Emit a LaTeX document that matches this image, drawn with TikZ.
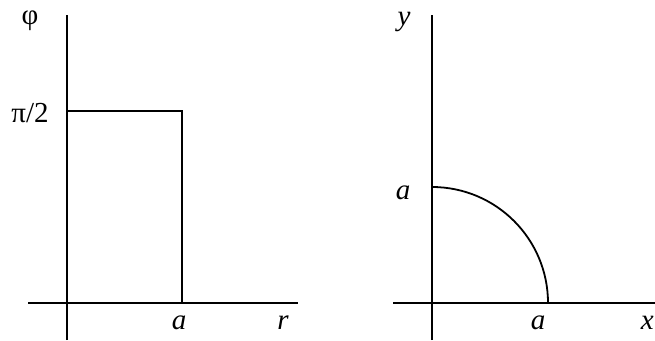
\documentclass[tikz,border=0pt]{standalone}
\usepackage{fontspec}
\setmainfont{Liberation Serif}
\begin{document}
\begin{tikzpicture}[x=1pt,y=-1pt,
  axis/.style={line width=1.8pt},
  curve/.style={line width=1.8pt},
  lbl/.style={inner sep=0pt,font=\fontsize{29}{31}\selectfont}]
\useasboundingbox (0,0) rectangle (655,340);
% left panel
\coordinate (L0) at (67,303);
\coordinate (Ltop) at (67,15);
\coordinate (Lbot) at (67,340);
\coordinate (Lleft) at (28,303);
\coordinate (Lright) at (298,303);
\coordinate (R1) at (67,111);
\coordinate (R2) at (182,111);
\coordinate (R3) at (182,303);
\draw[axis] (Lbot) -- (Ltop);
\draw[axis] (Lleft) -- (Lright);
\draw[curve] (R1) -- (R2) -- (R3);
\node[lbl] (phi) at (30,21) {φ};
\node[lbl] (pi2) at (30,113) {π/2};
\node[lbl] (la) at (179,323) {\itshape a};
\node[lbl] (lr) at (283,323) {\itshape r};
% right panel
\coordinate (O) at (432,303);
\coordinate (Rtop) at (432,15);
\coordinate (Rbot) at (432,340);
\coordinate (Rleft) at (393,303);
\coordinate (Rright) at (655,303);
\coordinate (A1) at (548,303);
\draw[axis] (Rbot) -- (Rtop);
\draw[axis] (Rleft) -- (Rright);
\draw[curve] (A1) arc[start angle=0,end angle=-90,radius=116];
\node[lbl] (ry) at (404,22) {\itshape y};
\node[lbl] (ra) at (403,193) {\itshape a};
\node[lbl] (rab) at (538,323) {\itshape a};
\node[lbl,anchor=east] (rx) at (654,323) {\itshape x};
\end{tikzpicture}
\end{document}
